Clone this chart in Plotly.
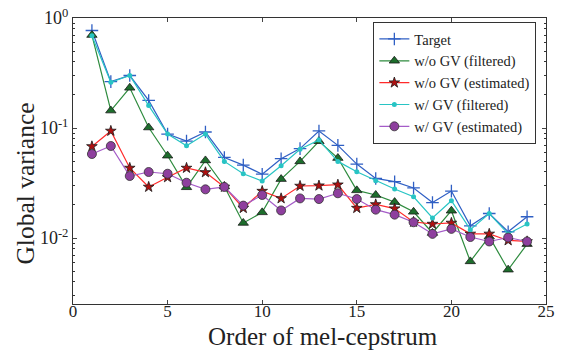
import plotly.graph_objects as go

order = list(range(1, 25))
target = [0.77, 0.264, 0.30, 0.178, 0.088, 0.076, 0.092, 0.054, 0.046, 0.038, 0.0526, 0.065,
          0.094, 0.0695, 0.047, 0.0348, 0.0325, 0.0285, 0.021, 0.0267, 0.0129, 0.0167, 0.0114, 0.0156]
wo_gv_filtered = [0.70, 0.144, 0.232, 0.101, 0.056, 0.0289, 0.0507, 0.0294, 0.0137, 0.0171, 0.0343, 0.0497,
                  0.0758, 0.0533, 0.0271, 0.0246, 0.0212, 0.0173, 0.0111, 0.0177, 0.00613, 0.0103, 0.00515, 0.0088]
wo_gv_estimated = [0.068, 0.094, 0.0433, 0.0291, 0.0356, 0.0433, 0.0395, 0.0291, 0.0187, 0.0267, 0.0229, 0.0297,
                   0.0299, 0.0305, 0.0187, 0.0202, 0.0185, 0.014, 0.0134, 0.0137, 0.0109, 0.0109, 0.0095, 0.0093]
w_gv_filtered = [0.69, 0.26, 0.30, 0.16, 0.088, 0.069, 0.088, 0.0497, 0.0384, 0.033, 0.0454, 0.064,
                 0.078, 0.0497, 0.040, 0.0332, 0.0279, 0.0237, 0.0152, 0.0218, 0.0119, 0.0167, 0.0109, 0.0134]
w_gv_estimated = [0.058, 0.0686, 0.0366, 0.0398, 0.0384, 0.0318, 0.0277, 0.0291, 0.0197, 0.0246, 0.0178, 0.0229,
                  0.0226, 0.0255, 0.0226, 0.0181, 0.0163, 0.0139, 0.0109, 0.0121, 0.0102, 0.0093, 0.0101, 0.0093]

ytick_vals = [1, 0.1, 0.01]
ytick_text = ["10<sup>0</sup>", "10<sup>-1</sup>", "10<sup>-2</sup>"]
xtick_vals = [0, 5, 10, 15, 20, 25]
x_title = "Order of mel-cepstrum"
y_title = "Global variance"

FONT = "Liberation Serif"

fig = go.Figure()
fig.add_trace(go.Scatter(x=order, y=target, name="Target", mode="lines+markers",
                         line=dict(color="#2f5fc4", width=1.2),
                         marker=dict(symbol="cross-thin", size=9, color="#2f5fc4",
                                     line=dict(color="#2f5fc4", width=1.3))))
fig.add_trace(go.Scatter(x=order, y=wo_gv_filtered, name="w/o GV (filtered)", mode="lines+markers",
                         line=dict(color="#2e8b3e", width=1.2),
                         marker=dict(symbol="triangle-up", size=9, color="#1d6e2c",
                                     line=dict(color="#1a1a1a", width=0.8))))
fig.add_trace(go.Scatter(x=order, y=wo_gv_estimated, name="w/o GV (estimated)", mode="lines+markers",
                         line=dict(color="#ff2a2a", width=1.2),
                         marker=dict(symbol="star", size=8, color="#b01010",
                                     line=dict(color="#1a1a1a", width=0.8))))
fig.add_trace(go.Scatter(x=order, y=w_gv_filtered, name="w/ GV (filtered)", mode="lines+markers",
                         line=dict(color="#28c4c4", width=1.2),
                         marker=dict(symbol="circle", size=5, color="#28c4c4")))
fig.add_trace(go.Scatter(x=order, y=w_gv_estimated, name="w/ GV (estimated)", mode="lines+markers",
                         line=dict(color="#a55cc8", width=1.2),
                         marker=dict(symbol="circle", size=9, color="#8e3f9e",
                                     line=dict(color="#333333", width=0.8))))

fig.update_layout(
    width=563, height=351,
    margin=dict(l=73, r=17, t=18, b=47),
    paper_bgcolor="white", plot_bgcolor="white",
    font=dict(family=FONT, color="#222222", size=17),
    showlegend=True,
    legend=dict(x=0.635, y=0.986, xanchor="left", yanchor="top",
                bgcolor="white", bordercolor="#333333", borderwidth=1,
                font=dict(family=FONT, size=14.5, color="#222222"),
                tracegroupgap=0, itemwidth=30),
    annotations=[
        dict(text=x_title, xref="paper", yref="paper", x=0.529, y=-0.163,
             xanchor="center", yanchor="bottom", showarrow=False, borderpad=0,
             font=dict(family=FONT, size=25, color="#222222")),
        dict(text=y_title, xref="paper", yref="paper", x=-0.1, y=0.42,
             xanchor="center", yanchor="middle", showarrow=False, textangle=-90,
             font=dict(family=FONT, size=25.5, color="#222222")),
    ],
)
fig.update_xaxes(range=[0, 25], tickvals=xtick_vals, ticks="inside", ticklen=4,
                 showline=True, linecolor="#333333", linewidth=1, mirror="ticks",
                 showgrid=False, zeroline=False, automargin=False,
                 ticklabelstandoff=-8,
                 tickfont=dict(family=FONT, size=17))
fig.update_yaxes(type="log", range=[-2.6, 0], tickvals=ytick_vals, ticktext=ytick_text,
                 ticks="inside", ticklen=4, automargin=False,
                 minor=dict(ticks="inside", ticklen=2, tickcolor="#333333", showgrid=False,
                            tickvals=[v * m for v in [0.001, 0.01, 0.1] for m in range(2, 10)]),
                 showline=True, linecolor="#333333", linewidth=1, mirror="ticks",
                 showgrid=False, zeroline=False,
                 tickfont=dict(family=FONT, size=18))

fig.write_html("out.html", config={"displayModeBar": False},
               post_script="document.body.style.margin='0';document.body.style.overflow='hidden';")
